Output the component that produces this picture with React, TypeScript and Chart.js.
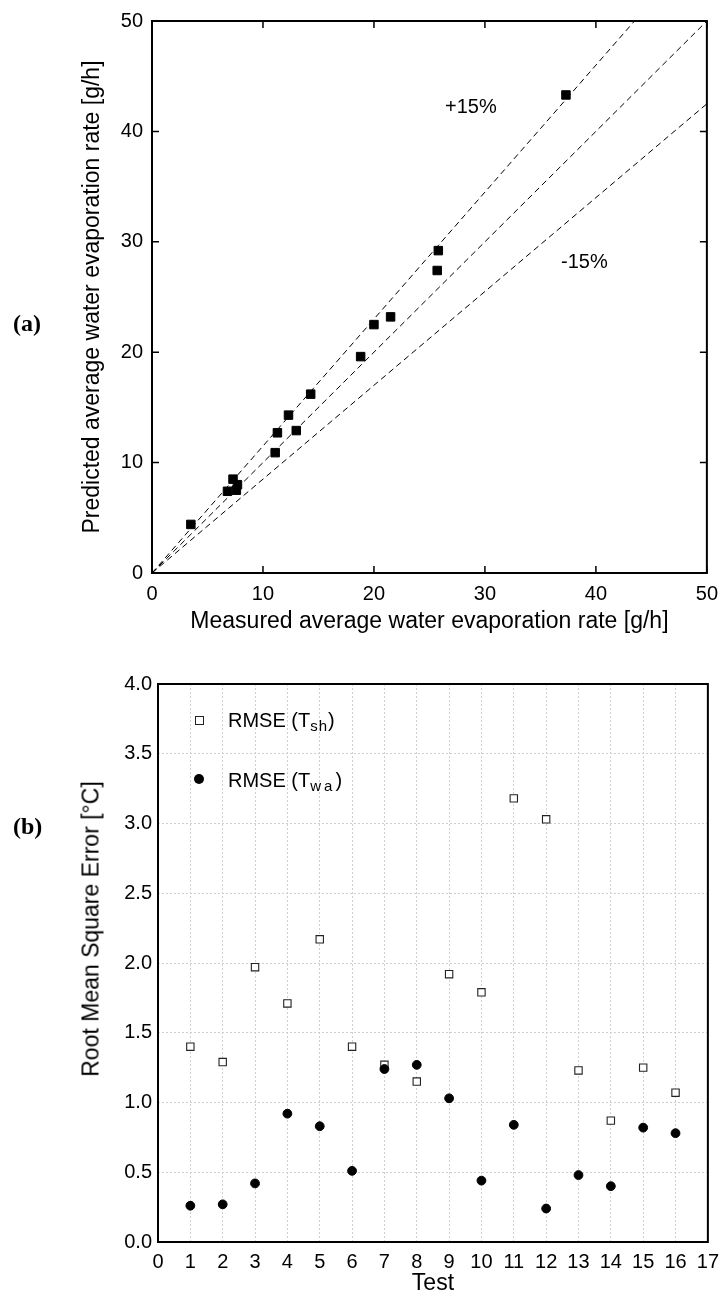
import React, { useEffect, useRef } from "react";
import { Chart, registerables } from "chart.js";

Chart.register(...registerables);

// ---------- Chart (a) data ----------
const measuredA = [3.5, 6.8, 7.3, 7.7, 7.6, 11.1, 11.3, 12.3, 13.0, 14.3, 18.8, 20.0, 21.5, 25.7, 25.8, 37.3];
const predictedA = [4.4, 7.4, 8.5, 8.0, 7.5, 10.9, 12.7, 14.3, 12.9, 16.2, 19.6, 22.5, 23.2, 27.4, 29.2, 43.3];
const boundFactors = [1.15, 1.0, 0.85];
const boundLabels = ["+15%", "0%", "-15%"];
const axisTicksA = [0, 10, 20, 30, 40, 50];

// ---------- Chart (b) data ----------
const testsB = [1, 2, 3, 4, 5, 6, 7, 8, 9, 10, 11, 12, 13, 14, 15, 16];
const rmseSh = [1.40, 1.29, 1.97, 1.71, 2.17, 1.40, 1.27, 1.15, 1.92, 1.79, 3.18, 3.03, 1.23, 0.87, 1.25, 1.07];
const rmseWa = [0.26, 0.27, 0.42, 0.92, 0.83, 0.51, 1.24, 1.27, 1.03, 0.44, 0.84, 0.24, 0.48, 0.40, 0.82, 0.78];
const xTicksB = [0, 1, 2, 3, 4, 5, 6, 7, 8, 9, 10, 11, 12, 13, 14, 15, 16, 17];
const yTicksB = [0, 0.5, 1.0, 1.5, 2.0, 2.5, 3.0, 3.5, 4.0];
const yTickLabelsB = ["0.0", "0.5", "1.0", "1.5", "2.0", "2.5", "3.0", "3.5", "4.0"];

const SANS = '"Liberation Sans", Arial, Helvetica, sans-serif';
Chart.defaults.font.family = SANS;
Chart.defaults.color = "#000";

const TICK_SIZE = 20;
const TITLE_SIZE = 23;

function framePlugin(lineWidth: number, inwardTicks: boolean) {
  return {
    id: "frame",
    afterDatasetsDraw(chart: any) {
      const { ctx, chartArea } = chart;
      const { left, right, top, bottom } = chartArea;
      ctx.save();
      ctx.strokeStyle = "#000";
      if (inwardTicks) {
        ctx.lineWidth = 1.5;
        const tl = 7;
        const xs = chart.scales.x;
        const ys = chart.scales.y;
        ctx.beginPath();
        xs.ticks.forEach((t: any) => {
          const px = xs.getPixelForValue(t.value);
          ctx.moveTo(px, bottom);
          ctx.lineTo(px, bottom - tl);
          ctx.moveTo(px, top);
          ctx.lineTo(px, top + tl);
        });
        ys.ticks.forEach((t: any) => {
          const py = ys.getPixelForValue(t.value);
          ctx.moveTo(left, py);
          ctx.lineTo(left + tl, py);
          ctx.moveTo(right, py);
          ctx.lineTo(right - tl, py);
        });
        ctx.stroke();
      }
      ctx.lineWidth = lineWidth;
      ctx.strokeRect(left, top, right - left, bottom - top);
      ctx.restore();
    },
  };
}

export default function App() {
  const refA = useRef<HTMLCanvasElement>(null);
  const refB = useRef<HTMLCanvasElement>(null);

  useEffect(() => {
    const maxA = axisTicksA[axisTicksA.length - 1];
    const chartA = new Chart(refA.current as HTMLCanvasElement, {
      type: "scatter",
      data: {
        datasets: [
          {
            label: "Predicted vs measured",
            data: measuredA.map((x, i) => ({ x, y: predictedA[i] })),
            pointStyle: "rect",
            pointRadius: 6,
            pointBackgroundColor: "#000",
            pointBorderColor: "#000",
            pointBorderWidth: 1,
            showLine: false,
          } as any,
          ...boundFactors.map((f, i) => ({
            label: boundLabels[i],
            data: [
              { x: 0, y: 0 },
              { x: maxA, y: maxA * f },
            ],
            showLine: true,
            borderColor: "#000",
            borderWidth: 1,
            borderDash: [6, 4],
            pointRadius: 0,
            fill: false,
          })),
        ],
      },
      options: {
        responsive: false,
        animation: false,
        layout: { padding: { left: 0, top: 16, right: 19, bottom: 0 } },
        plugins: { legend: { display: false }, tooltip: { enabled: false } },
        scales: {
          x: {
            type: "linear",
            min: 0,
            max: maxA,
            afterBuildTicks: (s: any) => {
              s.ticks = axisTicksA.map((v) => ({ value: v }));
            },
            afterFit: (s: any) => {
              s.height = 72;
            },
            grid: { display: false, drawTicks: false },
            border: { display: false },
            ticks: { padding: 9, color: "#000", font: { size: TICK_SIZE } },
            title: {
              display: true,
              text: "Measured average water evaporation rate [g/h]",
              color: "#000",
              font: { size: TITLE_SIZE },
              padding: { top: 0, bottom: 10 },
            },
          },
          y: {
            type: "linear",
            min: 0,
            max: maxA,
            afterBuildTicks: (s: any) => {
              s.ticks = axisTicksA.map((v) => ({ value: v }));
            },
            afterFit: (s: any) => {
              s.width = 152;
            },
            grid: { display: false, drawTicks: false },
            border: { display: false },
            ticks: { padding: 9, color: "#000", font: { size: TICK_SIZE } },
            title: {
              display: true,
              text: "Predicted average water evaporation rate [g/h]",
              color: "#000",
              font: { size: TITLE_SIZE },
              padding: { top: 79, bottom: 0 },
            },
          },
        },
      },
      plugins: [framePlugin(2, true)],
    } as any);

    const chartB = new Chart(refB.current as HTMLCanvasElement, {
      type: "scatter",
      data: {
        datasets: [
          {
            label: "RMSE (Twa)",
            data: testsB.map((x, i) => ({ x, y: rmseWa[i] })),
            pointStyle: "circle",
            pointRadius: 4.4,
            pointBackgroundColor: "#000",
            pointBorderColor: "#000",
            pointBorderWidth: 1,
          },
          {
            label: "RMSE (Tsh)",
            data: testsB.map((x, i) => ({ x, y: rmseSh[i] })),
            pointStyle: "rect",
            pointRadius: 5.2,
            pointBackgroundColor: "#fff",
            pointBorderColor: "#222",
            pointBorderWidth: 1.1,
          },
        ],
      },
      options: {
        responsive: false,
        animation: false,
        layout: { padding: { left: 0, top: 34, right: 13, bottom: 0 } },
        plugins: { legend: { display: false }, tooltip: { enabled: false } },
        scales: {
          x: {
            type: "linear",
            min: xTicksB[0],
            max: xTicksB[xTicksB.length - 1],
            afterBuildTicks: (s: any) => {
              s.ticks = xTicksB.map((v) => ({ value: v }));
            },
            afterFit: (s: any) => {
              s.height = 59;
            },
            grid: { display: true, color: "#cfcfcf", lineWidth: 1, drawTicks: false },
            border: { display: false, dash: [2, 2] },
            ticks: { padding: 8, color: "#000", font: { size: TICK_SIZE } },
            title: {
              display: true,
              text: "Test",
              color: "#000",
              font: { size: TITLE_SIZE },
              padding: { top: 0, bottom: 4 },
            },
          },
          y: {
            type: "linear",
            min: yTicksB[0],
            max: yTicksB[yTicksB.length - 1],
            afterBuildTicks: (s: any) => {
              s.ticks = yTicksB.map((v) => ({ value: v }));
            },
            afterFit: (s: any) => {
              s.width = 158;
            },
            grid: { display: true, color: "#cfcfcf", lineWidth: 1, drawTicks: false },
            border: { display: false, dash: [2, 2] },
            ticks: {
              padding: 6,
              color: "#000",
              font: { size: TICK_SIZE },
              callback: (v: any) => {
                const i = yTicksB.indexOf(Number(v));
                return i >= 0 ? yTickLabelsB[i] : "";
              },
            },
            title: { display: false },
          },
        },
      },
      plugins: [framePlugin(2, false)],
    } as any);

    return () => {
      chartA.destroy();
      chartB.destroy();
    };
  }, []);

  const abs = (o: any): React.CSSProperties => ({ position: "absolute", whiteSpace: "nowrap", ...o });
  const sub: React.CSSProperties = { fontSize: 15, position: "relative", top: 4, letterSpacing: 1 };

  return (
    <div style={{ position: "absolute", left: 0, top: 0, width: 727, height: 1301, background: "#fff", overflow: "hidden" }}>
      <canvas ref={refA} width={727} height={645} style={{ position: "absolute", left: 0, top: 0, display: "block" }} />
      <canvas ref={refB} width={727} height={651} style={{ position: "absolute", left: 0, top: 650, display: "block" }} />

      <div style={abs({ left: 13, top: 309, font: 'bold 24px "Liberation Serif", "Times New Roman", serif', lineHeight: "28px" })}>(a)</div>
      <div style={abs({ left: 13, top: 812, font: 'bold 24px "Liberation Serif", "Times New Roman", serif', lineHeight: "28px" })}>(b)</div>

      <div style={abs({ left: 445, top: 94, font: `20px ${SANS}`, lineHeight: "24px" })}>+15%</div>
      <div style={abs({ left: 561, top: 249, font: `20px ${SANS}`, lineHeight: "24px" })}>-15%</div>

      <div
        style={abs({
          left: 91,
          top: 929,
          font: `${TITLE_SIZE}px ${SANS}`,
          lineHeight: 1,
          transform: "translate(-50%, -50%) rotate(-90deg)",
        })}
      >
        Root Mean Square Error [°C]
      </div>

      <div style={abs({ left: 195, top: 716, width: 9, height: 9, border: "1px solid #222", boxSizing: "border-box", background: "#fff" })} />
      <div style={abs({ left: 228, top: 708, font: `20px ${SANS}`, lineHeight: "24px" })}>
        RMSE (T<span style={sub}>sh</span>)
      </div>
      <div style={abs({ left: 194, top: 774, width: 10, height: 10, borderRadius: "50%", background: "#000" })} />
      <div style={abs({ left: 228, top: 768, font: `20px ${SANS}`, lineHeight: "24px" })}>
        RMSE (T<span style={{ ...sub, letterSpacing: 3 }}>wa</span>)
      </div>
    </div>
  );
}
